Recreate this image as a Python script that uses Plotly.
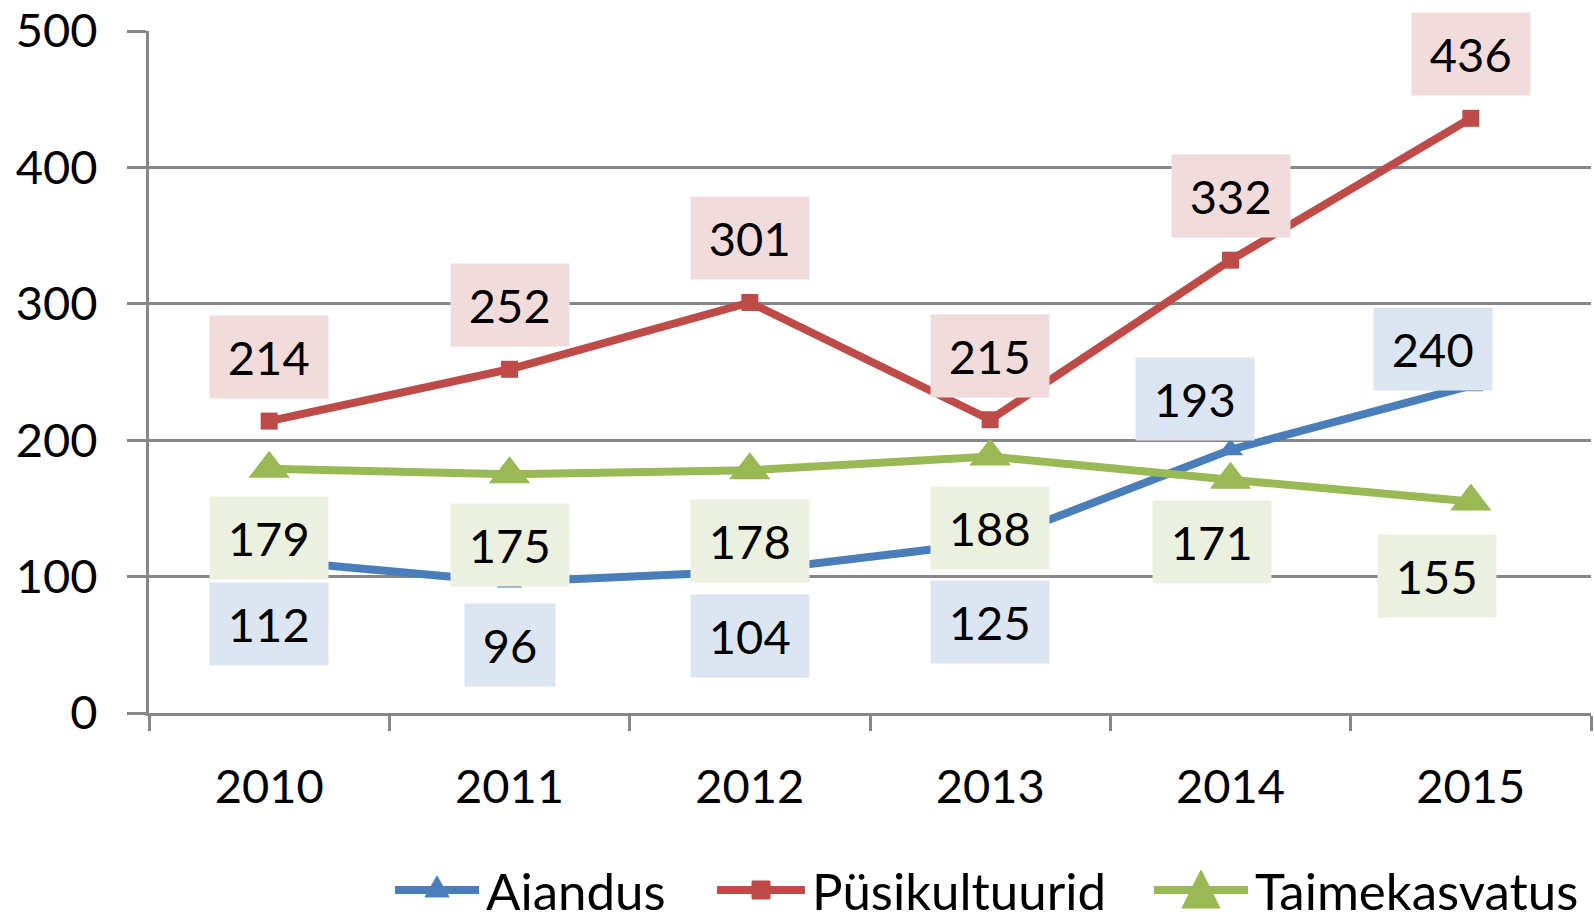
import plotly.graph_objects as go

years = ["2010", "2011", "2012", "2013", "2014", "2015"]
aiandus = [112, 96, 104, 125, 193, 240]
pysikultuurid = [214, 252, 301, 215, 332, 436]
taimekasvatus = [179, 175, 178, 188, 171, 155]

FONT = "Lato"
GRID = "#878787"
BLUE, RED, GREEN = "#4A7EBB", "#BE4B48", "#98B954"

# plot area in pixels (figure is 1594 x 920)
L, R, T, B = 149, 3, 31, 207
PW, PH = 1594 - L - R, 920 - T - B

fig = go.Figure()

fig.add_trace(go.Scatter(
    x=years, y=aiandus, name="Aiandus", mode="lines+markers",
    line=dict(color=BLUE, width=8),
    marker=dict(symbol="triangle-up", size=22, color=BLUE),
))
fig.add_trace(go.Scatter(
    x=years, y=pysikultuurid, name="Püsikultuurid", mode="lines+markers",
    line=dict(color=RED, width=8),
    marker=dict(symbol="square", size=17, color=RED),
))
fig.add_trace(go.Scatter(
    x=years, y=taimekasvatus, name="Taimekasvatus", mode="lines+markers",
    line=dict(color=GREEN, width=8),
    marker=dict(symbol="triangle-up", size=36, color=GREEN),
))

# data label boxes: (values, box colour, vertical offsets, horizontal offsets)
labels = [
    (aiandus, "#DCE6F2", [-64, -63, -65, -79, 51, 37], [0, 0, 0, 0, -36, -38]),
    (pysikultuurid, "#F2DCDB", [64, 64, 64, 64, 64, 64], [0, 0, 0, 0, 0, 0]),
    (taimekasvatus, "#EBF1DE", [-69, -71, -71, -71, -62, -74], [0, 0, 0, 0, -19, -34]),
]
for vals, bg, dys, dxs in labels:
    for i, (v, dy, dx) in enumerate(zip(vals, dys, dxs)):
        fig.add_annotation(
            x=i, y=v, xref="x", yref="y", text=str(v), showarrow=False,
            xshift=dx, yshift=dy,
            bgcolor=bg, width=33 + 27.5 * len(str(v)), height=80,
            font=dict(family=FONT, size=47, color="black"),
        )


# custom legend (longer line keys like the original)
def px_x(px):
    return (px - L) / PW


def px_y(py):
    return (920 - B - py) / PH


leg_y = 890
legend_items = [
    ("Aiandus", BLUE, 437, 84, "M-12,-7 L12,-7 L0,14 Z"),
    ("Püsikultuurid", RED, 761, 88, "M-9,-9 L9,-9 L9,9 L-9,9 Z"),
    ("Taimekasvatus", GREEN, 1201, 94, "M-19,-18 L19,-18 L0,20 Z"),
]
for name, col, cx, ln, sym in legend_items:
    fig.add_shape(
        type="line", xref="paper", yref="paper",
        xsizemode="pixel", ysizemode="pixel",
        xanchor=px_x(cx), yanchor=px_y(leg_y),
        x0=-ln / 2, x1=ln / 2, y0=0, y1=0,
        line=dict(color=col, width=8),
    )
    fig.add_shape(
        type="path", xref="paper", yref="paper",
        xsizemode="pixel", ysizemode="pixel",
        xanchor=px_x(cx), yanchor=px_y(leg_y),
        path=sym, fillcolor=col, line=dict(color=col, width=1),
    )
    fig.add_annotation(
        x=px_x(cx + ln / 2 + 5), y=px_y(leg_y), xref="paper", yref="paper",
        xanchor="left", yanchor="middle", text=name, showarrow=False,
        font=dict(family=FONT, size=51, color="black"),
    )

fig.update_layout(
    width=1594, height=920,
    paper_bgcolor="white", plot_bgcolor="white",
    margin=dict(l=L, r=R, t=T, b=B, autoexpand=False),
    font=dict(family=FONT, size=47, color="black"),
    showlegend=False,
    xaxis=dict(
        type="category", range=[-0.5, 5.5],
        showgrid=False, showline=True, linecolor=GRID, linewidth=3,
        ticks="outside", tickson="boundaries", ticklen=15, tickwidth=3, tickcolor=GRID,
        ticklabelstandoff=31,
    ),
    yaxis=dict(
        range=[0, 500], dtick=100,
        showgrid=True, gridcolor=GRID, gridwidth=3,
        showline=True, linecolor=GRID, linewidth=3,
        ticks="outside", ticklen=19, tickwidth=3, tickcolor=GRID,
        ticklabelstandoff=20, zeroline=False,
    ),
)

fig.write_html(
    "out.html",
    config={"displayModeBar": False},
    post_script="document.body.style.margin='0px';",
)
